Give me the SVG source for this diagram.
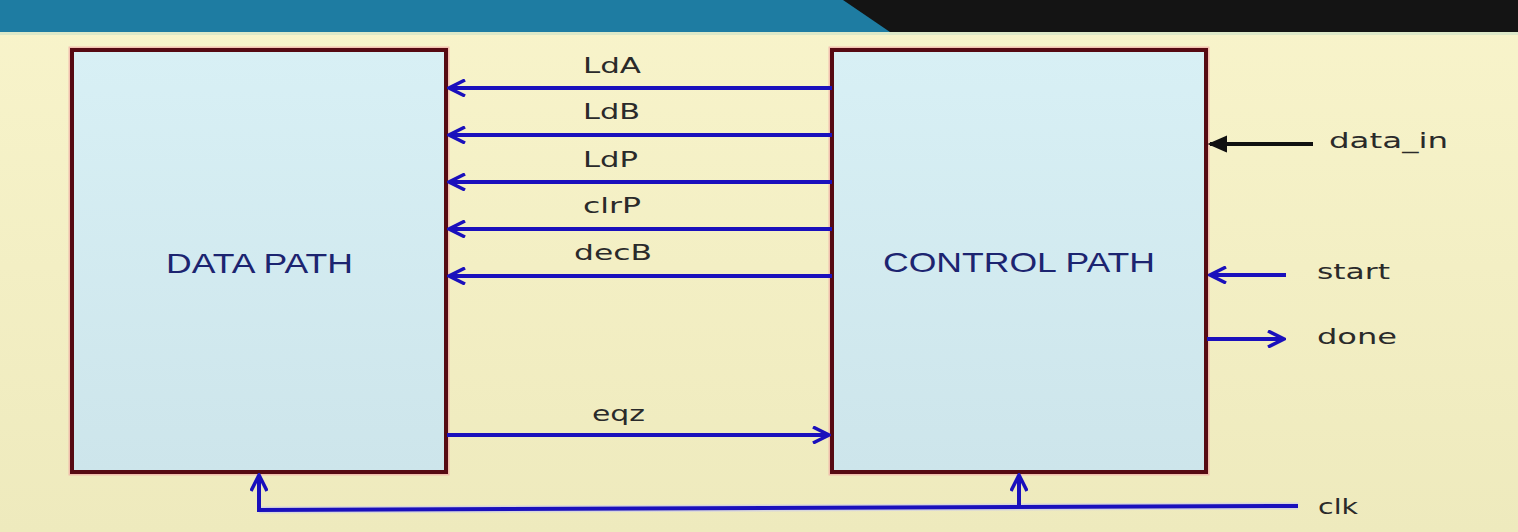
<svg xmlns="http://www.w3.org/2000/svg" width="1518" height="532" viewBox="0 0 1518 532">
<style>
.box{fill:url(#boxg);stroke:#560a12;stroke-width:4}
.boxglow{fill:none;stroke:#f0a0a0;stroke-width:7;opacity:0.6}
.title{font-family:"Liberation Sans",Arial,sans-serif;font-size:28px;fill:#1c2470}
.lbl{font-family:"DejaVu Sans",Verdana,sans-serif;font-size:22px;fill:#2a2a2a}
.sig{stroke:#1a10bc;stroke-width:4;fill:none}
.blk{stroke:#111;stroke-width:4;fill:none}
.halo{stroke:#c8c8f0;stroke-width:7;fill:none;opacity:0.6}
</style>
<defs>
<linearGradient id="bg" x1="0" y1="0" x2="0" y2="1">
<stop offset="0" stop-color="#f8f4cb"/>
<stop offset="1" stop-color="#eeeabd"/>
</linearGradient>
<linearGradient id="boxg" x1="0" y1="0" x2="0" y2="1">
<stop offset="0" stop-color="#d8f0f5"/>
<stop offset="1" stop-color="#cde5eb"/>
</linearGradient>
<marker id="ah" viewBox="0 0 20 18" refX="18" refY="9" markerWidth="20" markerHeight="18" markerUnits="userSpaceOnUse" orient="auto">
<path d="M2,1 L18,9 L2,17" fill="none" stroke="#1a10bc" stroke-width="3.5"/>
</marker>
<marker id="ahk" viewBox="0 0 20 18" refX="18" refY="9" markerWidth="20" markerHeight="18" markerUnits="userSpaceOnUse" orient="auto">
<path d="M2,2 L18,9 L2,16 Z" fill="#111" stroke="#111" stroke-width="2"/>
</marker>
</defs>
<rect x="0" y="0" width="1518" height="532" fill="url(#bg)"/>
<rect x="0" y="0" width="1518" height="32" fill="#1e7ca2"/>
<polygon points="843,0 1518,0 1518,32 890,32" fill="#141414"/>
<rect x="0" y="32" width="1518" height="3" fill="#dce8c8"/>

<g id="datapath">
<rect class="boxglow" x="72" y="50" width="374" height="422"/>
<rect class="box" x="72" y="50" width="374" height="422"/>
<text class="title" x="166" y="273" textLength="187" lengthAdjust="spacingAndGlyphs">DATA PATH</text>
</g>
<g id="controlpath">
<rect class="boxglow" x="832" y="50" width="374" height="422"/>
<rect class="box" x="832" y="50" width="374" height="422"/>
<text class="title" x="883" y="272" textLength="272" lengthAdjust="spacingAndGlyphs">CONTROL PATH</text>
</g>

<g id="connectors">
<line class="sig" x1="832" y1="88" x2="449" y2="88" marker-end="url(#ah)"/>
<line class="sig" x1="832" y1="135" x2="449" y2="135" marker-end="url(#ah)"/>
<line class="sig" x1="832" y1="182" x2="449" y2="182" marker-end="url(#ah)"/>
<line class="sig" x1="832" y1="229" x2="449" y2="229" marker-end="url(#ah)"/>
<line class="sig" x1="832" y1="276" x2="449" y2="276" marker-end="url(#ah)"/>
<line class="sig" x1="447" y1="435" x2="829" y2="435" marker-end="url(#ah)"/>
<line class="blk" x1="1313" y1="144" x2="1210" y2="144" marker-end="url(#ahk)"/>
<line class="sig" x1="1286" y1="275" x2="1210" y2="275" marker-end="url(#ah)"/>
<line class="sig" x1="1207" y1="339" x2="1284" y2="339" marker-end="url(#ah)"/>
<polyline class="halo" points="1298,506 259,510"/>
<polyline class="sig" points="1298,506 259,510 259,475" marker-end="url(#ah)"/>
<line class="sig" x1="1019" y1="507" x2="1019" y2="475" marker-end="url(#ah)"/>
</g>

<g id="labels">
<text class="lbl" x="583" y="73" textLength="58" lengthAdjust="spacingAndGlyphs">LdA</text>
<text class="lbl" x="583" y="119" textLength="57" lengthAdjust="spacingAndGlyphs">LdB</text>
<text class="lbl" x="583" y="167" textLength="55" lengthAdjust="spacingAndGlyphs">LdP</text>
<text class="lbl" x="583" y="213" textLength="58" lengthAdjust="spacingAndGlyphs">clrP</text>
<text class="lbl" x="574" y="260" textLength="78" lengthAdjust="spacingAndGlyphs">decB</text>
<text class="lbl" x="592" y="421" textLength="53" lengthAdjust="spacingAndGlyphs">eqz</text>
<text class="lbl" x="1329" y="148" textLength="119" lengthAdjust="spacingAndGlyphs">data_in</text>
<text class="lbl" x="1317" y="279" textLength="73" lengthAdjust="spacingAndGlyphs">start</text>
<text class="lbl" x="1317" y="344" textLength="80" lengthAdjust="spacingAndGlyphs">done</text>
<text class="lbl" x="1318" y="514" textLength="40" lengthAdjust="spacingAndGlyphs">clk</text>
</g>
</svg>
